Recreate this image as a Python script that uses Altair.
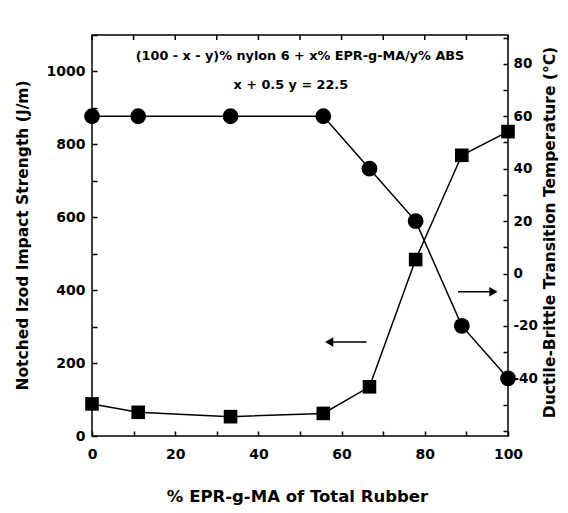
import altair as alt
import pandas as pd

# ---- data ----
x_pct = [0, 11.1, 33.3, 55.6, 66.7, 77.8, 88.9, 100]          # % EPR-g-MA of total rubber
izod = [88, 65, 53, 62, 135, 484, 770, 835]                    # notched Izod (J/m), squares, left axis
dbtt = [60, 60, 60, 60, 40, 20, -20, -40]                      # D-B transition temp (C), circles, right axis

x_ticks = list(range(0, 101, 10))
left_ticks = list(range(0, 1101, 100))
right_ticks = list(range(-60, 91, 10))

notes = ["(100 - x - y)% nylon 6 + x% EPR-g-MA/y% ABS", "x + 0.5 y = 22.5"]
note_x = [50, 47.8]
note_y = [1042, 963]

left_arrow_x = [66]
left_arrow_x2 = [57]
left_arrow_y = [258]
right_arrow_x = [88]
right_arrow_x2 = [96.5]
right_arrow_y = [-7]

FONT = "DejaVu Sans"

df = pd.DataFrame({"x": x_pct, "izod": izod, "dbtt": dbtt})
notes_df = pd.DataFrame({"x": note_x, "y": note_y, "t": notes})
ticks_df = pd.DataFrame({"x": x_ticks})
la_df = pd.DataFrame({"x": left_arrow_x, "x2": left_arrow_x2, "y": left_arrow_y})
ra_df = pd.DataFrame({"x": right_arrow_x, "x2": right_arrow_x2, "y": right_arrow_y})

xscale = alt.Scale(domain=[0, 100], nice=False, zero=False)
lscale = alt.Scale(domain=[0, 1100], nice=False, zero=False)
rscale = alt.Scale(domain=[-62, 91], nice=False, zero=False)

common = dict(
    domain=False, grid=False, tickSize=5, offset=-5, tickWidth=1.5, tickColor="black",
    labelFont=FONT, labelFontWeight="bold", labelColor="black",
    titleFont=FONT, titleFontWeight="bold", titleColor="black",
    labelOverlap=False, labelFlush=False,
    titleAlign="center", titleBaseline="middle",
)

x_axis = alt.Axis(
    orient="bottom", values=x_ticks,
    labelExpr="datum.value % 20 == 0 ? '' + datum.value : ''", labelFontSize=14,
    title="% EPR-g-MA of Total Rubber", titleFontSize=16.5,
    titleX=205, titleY=65, titleAngle=0, labelPadding=11, **common,
)
left_axis = alt.Axis(
    orient="left", values=left_ticks,
    labelExpr="(datum.value % 200 == 0 && datum.value <= 1000) ? '' + datum.value : ''", labelFontSize=14,
    title="Notched Izod Impact Strength (J/m)", titleFontSize=15.5,
    titleAngle=270, titleX=-75, titleY=200, labelPadding=7, **common,
)
right_axis = alt.Axis(
    orient="right", values=right_ticks,
    labelExpr="(datum.value % 20 == 0 && datum.value >= -40 && datum.value <= 80) ? '' + datum.value : ''",
    labelFontSize=13.5,
    title="Ductile-Brittle Transition Temperature (°C)", titleFontSize=15.5,
    titleAngle=270, titleX=46, titleY=197, labelPadding=5, **common,
)


def X(field):
    return alt.X(field, type="quantitative", scale=xscale, axis=x_axis)


def YL(field):
    return alt.Y(field, type="quantitative", scale=lscale, axis=left_axis)


def YR(field):
    return alt.Y(field, type="quantitative", scale=rscale, axis=right_axis)


sq_line = alt.Chart(df).mark_line(color="black", strokeWidth=1.5).encode(x=X("x"), y=YL("izod"))
sq_pts = alt.Chart(df).mark_point(shape="square", size=185, filled=True, color="black", opacity=1).encode(
    x=X("x"), y=YL("izod"))

text = alt.Chart(notes_df).mark_text(
    font=FONT, fontSize=12.8, fontWeight="bold", color="black", align="center", baseline="middle"
).encode(x=X("x"), y=YL("y"), text="t:N")

top_ticks = alt.Chart(ticks_df).mark_rule(color="black", strokeWidth=1.5).encode(
    x=X("x"), y=alt.value(0), y2=alt.value(5))

la_line = alt.Chart(la_df).mark_rule(color="black", strokeWidth=1.5).encode(
    x=X("x"), x2="x2:Q", y=YL("y"))
la_head = alt.Chart(la_df).mark_point(shape="triangle-left", filled=True, size=90, color="black", opacity=1).encode(
    x=X("x2"), y=YL("y"))

c_line = alt.Chart(df).mark_line(color="black", strokeWidth=1.5).encode(x=X("x"), y=YR("dbtt"))
c_pts = alt.Chart(df).mark_point(shape="circle", size=250, filled=True, color="black", opacity=1).encode(
    x=X("x"), y=YR("dbtt"))

ra_line = alt.Chart(ra_df).mark_rule(color="black", strokeWidth=1.5).encode(
    x=X("x"), x2="x2:Q", y=YR("y"))
ra_head = alt.Chart(ra_df).mark_point(shape="triangle-right", filled=True, size=90, color="black", opacity=1).encode(
    x=X("x2"), y=YR("y"))

left = alt.layer(sq_line, sq_pts, text, la_line, la_head)
right = alt.layer(c_line, c_pts, ra_line, ra_head)

chart = alt.layer(left, right, top_ticks).resolve_scale(y="independent").properties(
    width=416, height=401,
    padding={"left": 84, "top": 27, "right": 52, "bottom": 69},
    autosize=alt.AutoSizeParams(type="none"),
    background="white",
).configure_view(stroke="black", strokeWidth=1.5)

chart.save("out.html", embed_options={"renderer": "svg", "actions": False})
